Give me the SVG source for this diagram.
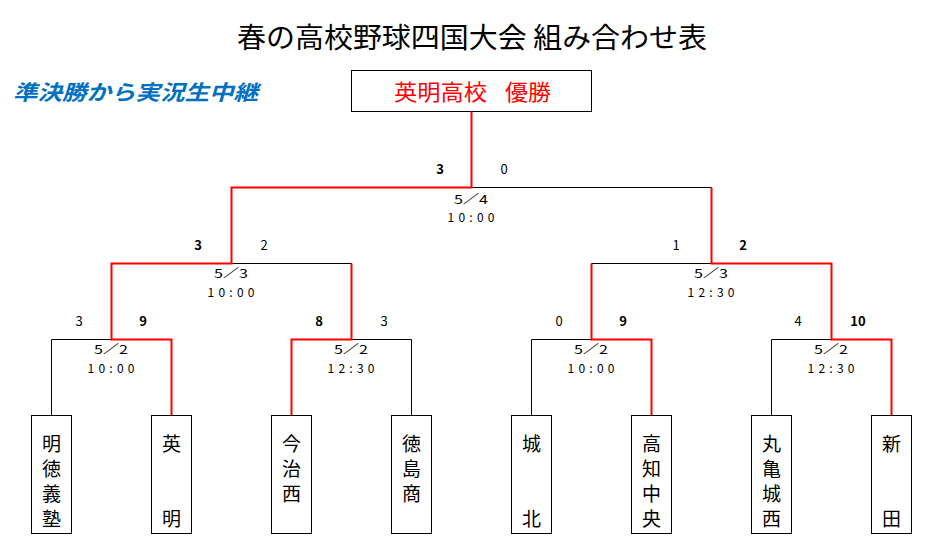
<svg xmlns="http://www.w3.org/2000/svg" width="939" height="548" viewBox="0 0 939 548">
<style>
text{font-family:"Noto Sans CJK JP","Noto Sans",sans-serif;}
.blk{fill:none;stroke:#000;stroke-width:1}
.red{fill:none;stroke:#FF0000;stroke-width:2}
.box{fill:#fff;stroke:#000;stroke-width:1}
.sc{font-size:13px;text-anchor:middle;fill:#000}
.win{font-weight:bold}
.dt{font-size:12px;text-anchor:middle;fill:#000}
.nm{font-size:19px;text-anchor:middle;fill:#000}
</style>
<rect width="939" height="548" fill="#fff"/>
<text x="472" y="48" font-size="28" text-anchor="middle" textLength="470" lengthAdjust="spacingAndGlyphs">春の高校野球四国大会 組み合わせ表</text>
<text x="13" y="100" font-size="21" font-weight="bold" font-style="italic" fill="#0070C0" textLength="245" lengthAdjust="spacingAndGlyphs">準決勝から実況生中継</text>
<g id="champion">
<rect class="box" x="351.5" y="70.5" width="240" height="41"/>
<text x="394" y="100" font-size="22" fill="#FF0000" textLength="93" lengthAdjust="spacingAndGlyphs">英明高校</text>
<text x="505" y="100" font-size="22" fill="#FF0000" textLength="46" lengthAdjust="spacingAndGlyphs">優勝</text>
</g>
<g id="connectors">
<path class="blk" d="M51.5 415 V339.5 H171.5 V415 M291.5 415 V339.5 H411.5 V415 M531.5 415 V339.5 H651.5 V415 M771.5 415 V339.5 H891.5 V415 M111.5 339.5 V263.5 H351.5 V339.5 M591.5 339.5 V263.5 H831.5 V339.5 M231.5 263.5 V187.5 H711.5 V263.5 M471.5 187.5 V111"/>
<path class="red" d="M171.5 415 V339.5 H111.5 V263.5 H231.5 V187.5 H471.5 V111.5"/>
<path class="red" d="M291.5 415 V339.5 H351.5 V263.5"/>
<path class="red" d="M651.5 415 V339.5 H591.5 V263.5"/>
<path class="red" d="M891.5 415 V339.5 H831.5 V263.5 H711.5 V187.5"/>
</g>
<g id="scores">
<text class="sc win" x="440" y="173.5">3</text>
<text class="sc" x="504" y="173.5">0</text>
<text class="sc win" x="198" y="249.5">3</text>
<text class="sc" x="264" y="249.5">2</text>
<text class="sc" x="676" y="249.5">1</text>
<text class="sc win" x="743" y="249.5">2</text>
<text class="sc" x="79" y="325.5">3</text>
<text class="sc win" x="143" y="325.5">9</text>
<text class="sc win" x="319" y="325.5">8</text>
<text class="sc" x="384" y="325.5">3</text>
<text class="sc" x="559" y="325.5">0</text>
<text class="sc win" x="623" y="325.5">9</text>
<text class="sc" x="798" y="325.5">4</text>
<text class="sc win" x="858" y="325.5">10</text>
</g>
<g id="dates">
<text class="dt" x="471" y="203.5" textLength="34" lengthAdjust="spacingAndGlyphs">5／4</text>
<text class="dt" x="471" y="221.5" textLength="47" lengthAdjust="spacing">10:00</text>
<text class="dt" x="231" y="277.5" textLength="34" lengthAdjust="spacingAndGlyphs">5／3</text>
<text class="dt" x="231" y="296.5" textLength="47" lengthAdjust="spacing">10:00</text>
<text class="dt" x="711" y="277.5" textLength="34" lengthAdjust="spacingAndGlyphs">5／3</text>
<text class="dt" x="711" y="296.5" textLength="47" lengthAdjust="spacing">12:30</text>
<text class="dt" x="111" y="353.5" textLength="34" lengthAdjust="spacingAndGlyphs">5／2</text>
<text class="dt" x="111" y="372.5" textLength="47" lengthAdjust="spacing">10:00</text>
<text class="dt" x="351" y="353.5" textLength="34" lengthAdjust="spacingAndGlyphs">5／2</text>
<text class="dt" x="351" y="372.5" textLength="47" lengthAdjust="spacing">12:30</text>
<text class="dt" x="591" y="353.5" textLength="34" lengthAdjust="spacingAndGlyphs">5／2</text>
<text class="dt" x="591" y="372.5" textLength="47" lengthAdjust="spacing">10:00</text>
<text class="dt" x="831" y="353.5" textLength="34" lengthAdjust="spacingAndGlyphs">5／2</text>
<text class="dt" x="831" y="372.5" textLength="47" lengthAdjust="spacing">12:30</text>
</g>
<g id="team-meitoku">
<rect class="box" x="31.5" y="415.5" width="40" height="118"/>
<text class="nm" x="51.5" y="451">明</text><text class="nm" x="51.5" y="476">徳</text><text class="nm" x="51.5" y="501">義</text><text class="nm" x="51.5" y="526">塾</text>
</g>
<g id="team-eimei">
<rect class="box" x="151.5" y="415.5" width="40" height="118"/>
<text class="nm" x="171.5" y="451">英</text><text class="nm" x="171.5" y="526">明</text>
</g>
<g id="team-imabarinishi">
<rect class="box" x="271.5" y="415.5" width="40" height="118"/>
<text class="nm" x="291.5" y="451">今</text><text class="nm" x="291.5" y="476">治</text><text class="nm" x="291.5" y="501">西</text>
</g>
<g id="team-tokushimasho">
<rect class="box" x="391.5" y="415.5" width="40" height="118"/>
<text class="nm" x="411.5" y="451">徳</text><text class="nm" x="411.5" y="476">島</text><text class="nm" x="411.5" y="501">商</text>
</g>
<g id="team-johoku">
<rect class="box" x="511.5" y="415.5" width="40" height="118"/>
<text class="nm" x="531.5" y="451">城</text><text class="nm" x="531.5" y="526">北</text>
</g>
<g id="team-kochichuo">
<rect class="box" x="631.5" y="415.5" width="40" height="118"/>
<text class="nm" x="651.5" y="451">高</text><text class="nm" x="651.5" y="476">知</text><text class="nm" x="651.5" y="501">中</text><text class="nm" x="651.5" y="526">央</text>
</g>
<g id="team-marugamejonishi">
<rect class="box" x="751.5" y="415.5" width="40" height="118"/>
<text class="nm" x="771.5" y="451">丸</text><text class="nm" x="771.5" y="476">亀</text><text class="nm" x="771.5" y="501">城</text><text class="nm" x="771.5" y="526">西</text>
</g>
<g id="team-shinden">
<rect class="box" x="871.5" y="415.5" width="40" height="118"/>
<text class="nm" x="891.5" y="451">新</text><text class="nm" x="891.5" y="526">田</text>
</g>
</svg>
